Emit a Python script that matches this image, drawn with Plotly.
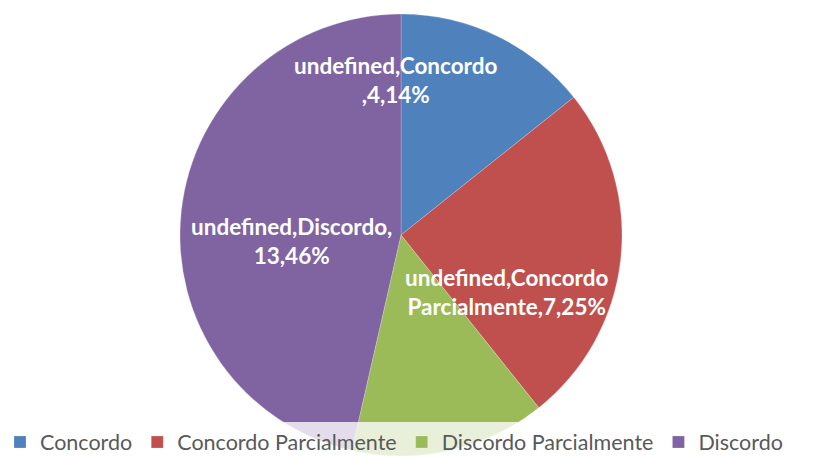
import plotly.graph_objects as go

# Survey answers and counts
categories = ["Concordo", "Concordo Parcialmente", "Discordo Parcialmente", "Discordo"]
counts = [4, 7, 4, 13]
colors = ["#4F81BD", "#C0504D", "#9BBB59", "#8064A2"]

# Which slices carry a data label, and where the label block sits (paper coords)
label_shown = [True, True, False, True]
label_x = [0.4835, 0.619, None, 0.3565]
label_y = [0.850, 0.371, None, 0.486]
label_breaks = [("undefined,Concordo", ",{v},{p}%"),
                ("undefined,Concordo", "Parcialmente,{v},{p}%"),
                ("undefined,Discordo Parcialmente", ",{v},{p}%"),
                ("undefined,Discordo,", "{v},{p}%")]

total = sum(counts)

fig = go.Figure(
    go.Pie(
        labels=categories,
        values=counts,
        sort=False,
        direction="clockwise",
        rotation=0,
        marker=dict(colors=colors, line=dict(color="rgba(255,255,255,0.35)", width=0.6)),
        textinfo="none",
        hoverinfo="label+value+percent",
        domain=dict(x=[0, 802 / 819], y=[0, 1]),
    )
)

annotations = []
for cat, v, show, lx, ly, (l1, l2) in zip(categories, counts, label_shown, label_x, label_y, label_breaks):
    if not show:
        continue
    pct = round(v / total * 100)
    annotations.append(
        dict(
            text=l1 + "<br>" + l2.format(v=v, p=pct),
            x=lx, y=ly, xref="paper", yref="paper",
            xanchor="center", yanchor="middle", align="center",
            showarrow=False,
            font=dict(family="Lato", size=22.5, color="white", weight="bold"),
        )
    )

fig.update_layout(
    width=819,
    height=456,
    margin=dict(l=0, r=0, t=14, b=0, autoexpand=False),
    paper_bgcolor="white",
    plot_bgcolor="white",
    annotations=annotations,
    showlegend=True,
    legend=dict(
        orientation="h",
        x=0.0, xanchor="left",
        y=0.078, yanchor="top",
        bgcolor="rgba(255,255,255,0.78)",
        font=dict(family="Lato", size=21.5, color="#595959"),
        traceorder="normal",
        itemclick=False,
    ),
)

fig.write_html("out.html")
